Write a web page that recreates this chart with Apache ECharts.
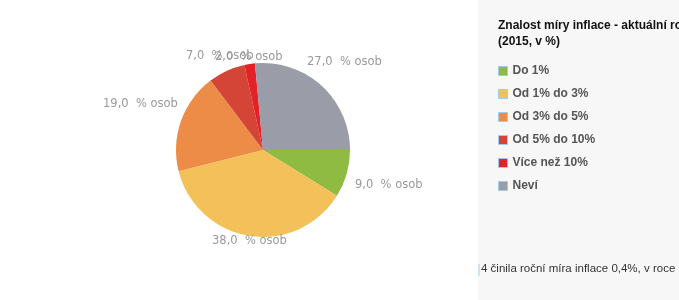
<!DOCTYPE html>
<html><head><meta charset="utf-8">
<script src="https://cdn.jsdelivr.net/npm/echarts@6/dist/echarts.min.js"></script>
<style>html,body{margin:0;padding:0;background:#fff}#c{width:679px;height:300px}</style>
</head><body><div id="c"></div>
<script>
const categories = ['Do 1%', 'Od 1% do 3%', 'Od 3% do 5%', 'Od 5% do 10%', 'Více než 10%', 'Neví'];
const values = [9, 38, 19, 7, 2, 27];
const colors = ['#8fbb43', '#f4c05a', '#ec8c47', '#d44537', '#e32228', '#9a9ca8'];
const titleText = 'Znalost míry inflace - aktuální roční míra inflace\n(2015, v %)';
const noteText = '4 činila roční míra inflace 0,4%, v roce 2015';
// label anchor (left edge, vertical middle) for each slice label
const labelAnchors = [[355, 185], [212, 241], [103, 104], [186, 56], [215, 57], [307, 62]];

const chart = echarts.init(document.getElementById('c'));
chart.setOption({
  animation: false,
  graphic: [
    {type: 'rect', shape: {x: 478, y: 0, width: 201, height: 300}, style: {fill: '#f7f7f7'}, z: -1},
    {type: 'rect', shape: {x: 478, y: 264, width: 2, height: 12}, style: {fill: '#cfe3f5'}},
    {type: 'text', left: 481, top: 263, style: {text: noteText, font: '11.5px Arial, "Liberation Sans"', fill: '#333'}}
  ],
  title: {
    text: titleText, left: 493, top: 13,
    textStyle: {fontFamily: 'Arial, "Liberation Sans"', fontSize: 12, fontWeight: 'bold', color: '#111', lineHeight: 16}
  },
  legend: {
    orient: 'vertical', left: 498, top: 65, padding: 0, itemWidth: 9, itemHeight: 9, itemGap: 11,
    icon: 'rect',
    itemStyle: {borderColor: '#9fcbef', borderWidth: 1},
    textStyle: {fontFamily: 'Arial, "Liberation Sans"', fontSize: 12, fontWeight: 'bold', color: '#555', padding: [0, 0, 0, 0]},
    data: categories
  },
  series: [{
    type: 'pie', center: [263, 150], radius: 87, startAngle: 0, clockwise: true,
    color: colors,
    label: {
      show: true, position: 'outside',
      formatter: p => p.value.toFixed(1).replace('.', ',') + '  % osob',
      fontFamily: 'Verdana, "DejaVu Sans"', fontSize: 11.5, color: '#999'
    },
    labelLine: {show: false},
    labelLayout: p => ({x: labelAnchors[p.dataIndex][0], y: labelAnchors[p.dataIndex][1], align: 'left', verticalAlign: 'middle'}),
    emphasis: {disabled: true},
    data: categories.map((n, i) => ({name: n, value: values[i]}))
  }]
});
</script></body></html>
